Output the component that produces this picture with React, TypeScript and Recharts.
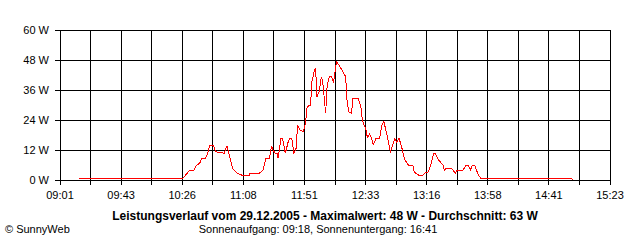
import { CartesianGrid, Line, LineChart, XAxis, YAxis } from "recharts";

// Zeit in Minuten seit Mitternacht, Leistung in W
const MINUTEN = [
  554, 626, 627, 631, 634, 636, 638, 639.5, 642, 644, 645, 647.5, 649, 655, 657, 658.5, 661, 664, 667, 672.5,
  673, 679.5, 682, 684, 686.5, 688, 689, 690.5, 692, 692.5, 694.5, 695.5, 697.5, 699.5, 700.5, 702, 703.5, 705,
  706, 707.5, 710, 711.5, 712.5, 714, 715, 716, 717.5, 718.5, 719.5, 721, 722.5, 723.5, 725.5, 726.5, 728, 729.5,
  731, 732, 733, 735.5, 737.5, 739.5, 740, 741.5, 743.5, 744.5, 748, 750, 751, 753.5, 754.5, 756, 757.5, 758.5,
  760.5, 763, 764.5, 766, 767, 768.5, 770.5, 772.5, 773.5, 775, 776.5, 778.5, 780.5, 783, 786, 787, 790, 793,
  794.5, 797, 798.5, 800.5, 801.5, 804, 807, 808, 809.5, 813, 815.5, 817, 821, 823, 824.5, 826, 827.5, 829,
  831.5, 833.5, 896.5, 897,
];
const WATT = [
  0.6, 0.6, 1, 4, 4, 6, 6.7, 8.7, 8.7, 11.3, 14, 14, 11.3, 10.7, 13.7, 10, 4.4, 2.7, 2, 2,
  2.7, 2.7, 4, 8.7, 8.7, 13.7, 12, 10.7, 10.7, 8.7, 16.7, 16.7, 10.7, 15.3, 16.7, 16.7, 10.7, 12.7,
  22, 20, 19.3, 22.7, 28.7, 30, 30, 39.3, 43.3, 44.7, 33.3, 35.3, 41.3, 39.3, 26.7, 37.3, 41.3, 41.3,
  39.3, 43.3, 47.3, 45.3, 43.3, 41.3, 33.3, 27.3, 26.7, 32.7, 32.7, 29.3, 24, 20, 17, 18.3, 16.7, 14,
  16.7, 16.7, 22, 23.3, 20.7, 17, 11.3, 14.7, 16.4, 15, 16.7, 12.7, 8, 6, 6, 3.1, 2, 2,
  2.9, 3.3, 6, 10.7, 10.7, 8, 6, 4, 4.7, 4.7, 2.7, 4, 4, 6, 6, 4, 6, 6,
  2, 0.6, 0.6, 0,
];

const X_LABELS = ["09:01", "09:43", "10:26", "11:08", "11:51", "12:33", "13:16", "13:58", "14:41", "15:23"];
const Y_TICKS = [0, 12, 24, 36, 48, 60];

const START = 541;
const ENDE = 923;
const SCHRITTE = 18;
const X_TICKS = Array.from({ length: SCHRITTE + 1 }, (_, i) => START + (i * (ENDE - START)) / SCHRITTE);

const TITEL = "Leistungsverlauf vom 29.12.2005 - Maximalwert: 48 W - Durchschnitt: 63 W";
const UNTERTITEL = "Sonnenaufgang: 09:18, Sonnenuntergang: 16:41";

const FONT = '"Liberation Sans", Arial, sans-serif';

export default function App() {
  const rows = MINUTEN.map((t, i) => ({ t, w: WATT[i] }));
  const tick = { fill: "#000", fontSize: 11, fontFamily: FONT };

  return (
    <div style={{ position: "absolute", left: 0, top: 0, width: 640, height: 240, background: "#fff", fontFamily: FONT }}>
      <LineChart width={640} height={240} data={rows} margin={{ top: 30, right: 30, left: 0, bottom: 30 }}>
        <CartesianGrid stroke="#000" strokeWidth={1} shapeRendering="crispEdges" />
        <XAxis
          dataKey="t" type="number" domain={[START, ENDE]} ticks={X_TICKS} interval={0} height={30}
          tick={tick} tickSize={5} tickMargin={6} stroke="#000" shapeRendering="crispEdges"
          tickFormatter={(v: number) => {
            const i = Math.round(((v - START) * SCHRITTE) / (ENDE - START));
            return i % 2 === 0 ? X_LABELS[i / 2] : "";
          }}
        />
        <YAxis
          type="number" domain={[0, 60]} ticks={Y_TICKS} interval={0} width={60}
          tick={tick} tickSize={5} tickMargin={6} stroke="#000" shapeRendering="crispEdges"
          tickFormatter={(v: number) => `${v} W`}
        />
        <Line
          type="linear" dataKey="w" stroke="#ff0000" strokeWidth={1} dot={false}
          isAnimationActive={false} shapeRendering="crispEdges"
        />
      </LineChart>
      <div style={{ position: "absolute", left: 0, width: 650, top: 209, textAlign: "center", fontSize: 12, fontWeight: "bold", whiteSpace: "nowrap" }}>
        {TITEL}
      </div>
      <div style={{ position: "absolute", left: 0, width: 636, top: 223, textAlign: "center", fontSize: 11, whiteSpace: "nowrap" }}>
        {UNTERTITEL}
      </div>
      <div style={{ position: "absolute", left: 5, top: 223, fontSize: 11, whiteSpace: "nowrap" }}>© SunnyWeb</div>
    </div>
  );
}
